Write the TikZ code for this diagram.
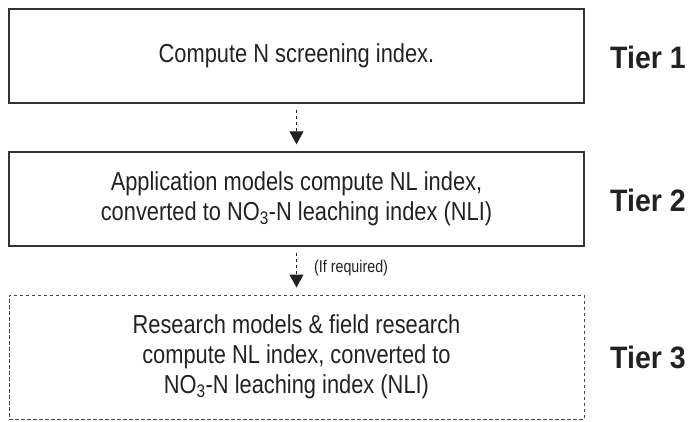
\documentclass[tikz,border=0pt]{standalone}
\usepackage{fontspec}
\usetikzlibrary{arrows.meta}
\newfontfamily\mainf{Liberation Sans}[FakeStretch=0.84]
\newfontfamily\tierf{Liberation Sans}[FakeStretch=0.92]
\definecolor{ink}{HTML}{222222}
\definecolor{edge}{HTML}{333333}
\tikzset{
  tierbox/.style={draw=edge, line width=1.3pt, minimum width=575pt, inner sep=0pt,
    align=center, text=ink, font={\mainf\fontsize{26}{30}\selectfont}},
  dashbox/.style={tierbox, draw=edge!90, line width=1pt, dash pattern=on 3.5pt off 2.5pt},
  tierlabel/.style={anchor=west, text=ink, inner sep=0pt, font={\tierf\bfseries\fontsize{31}{34}\selectfont}},
  conn/.style={draw=ink, line width=1pt, dash pattern=on 3.5pt off 2.5pt,
    -{Triangle[width=14pt,length=13pt]}, shorten <=6pt, shorten >=7pt},
  note/.style={anchor=west, text=ink, inner sep=0pt, font={\mainf\fontsize{17}{20}\selectfont}}
}
\begin{document}
\begin{tikzpicture}[x=1pt,y=-1pt]
\useasboundingbox (0,0) rectangle (694,421);
\node[tierbox, minimum height=94pt] (b1) at (296.5,56) {Compute N screening index.};
\node[tierbox, minimum height=94pt] (b2) at (296.5,199) {Application models compute NL index,\\converted to NO\textsubscript{3}-N leaching index (NLI)};
\node[dashbox, minimum height=124pt] (b3) at (296.5,357) {Research models \& field research\\compute NL index, converted to\\NO\textsubscript{3}-N leaching index (NLI)};
\node[tierlabel] (t1) at (610,57) {Tier 1};
\node[tierlabel] (t2) at (610,200) {Tier 2};
\node[tierlabel] (t3) at (610,357) {Tier 3};
\draw[conn] (b1) -- (b2);
\draw[conn] (b2) -- (b3);
\node[note] (req) at (314,268) {(If required)};
\end{tikzpicture}
\end{document}
